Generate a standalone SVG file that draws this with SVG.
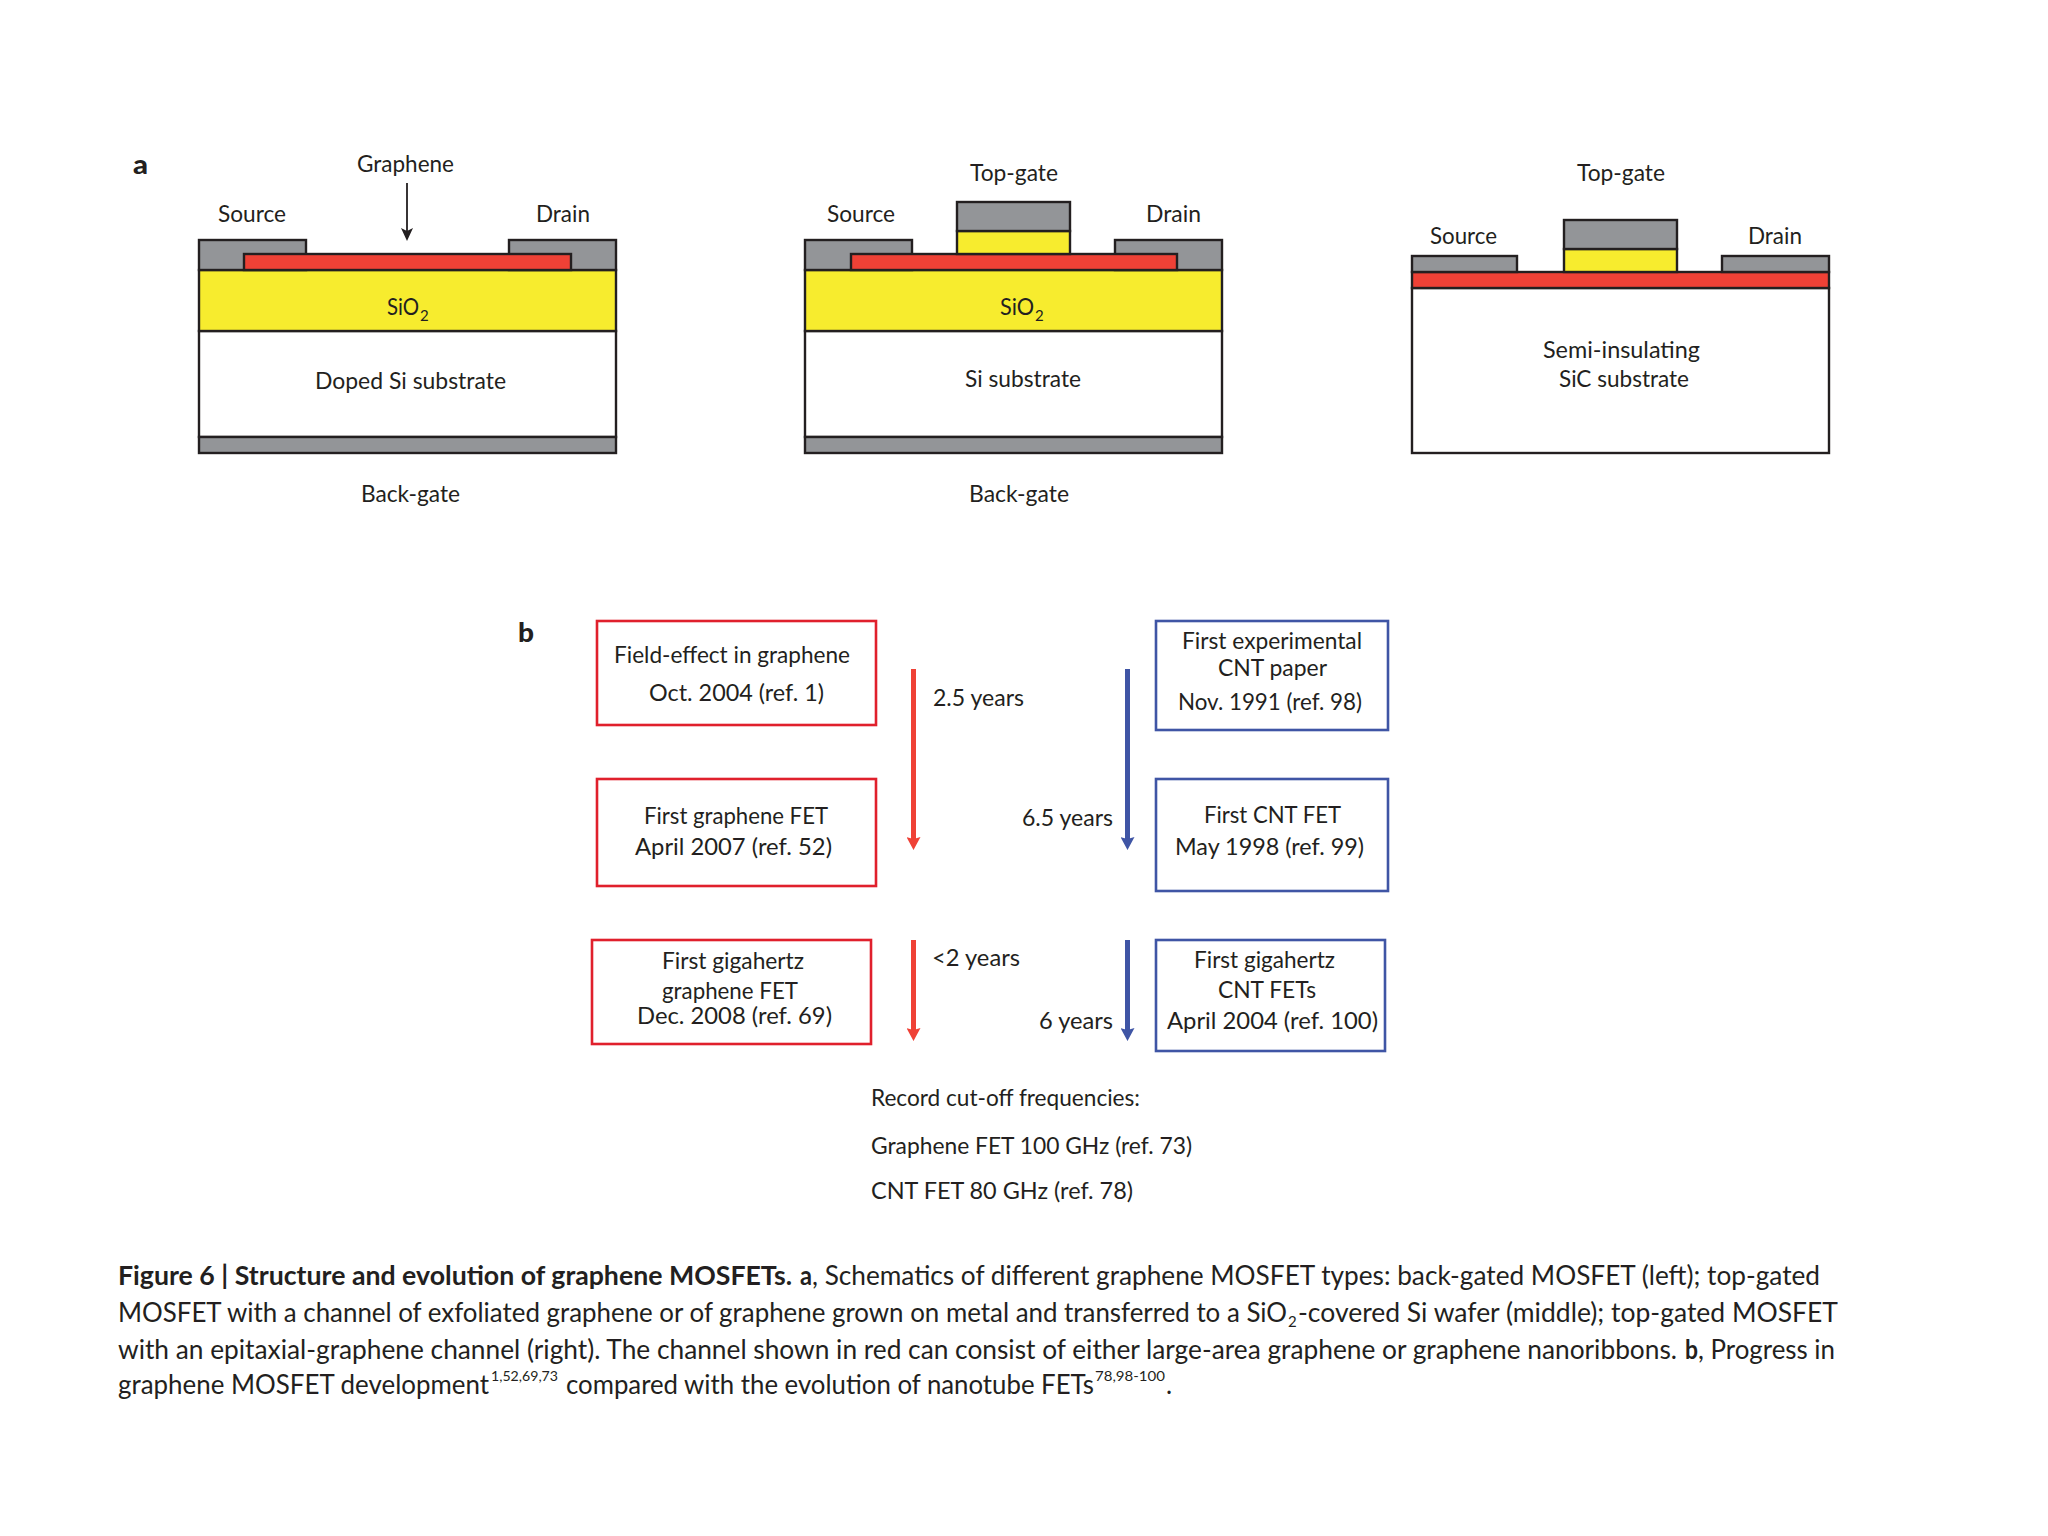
<svg xmlns="http://www.w3.org/2000/svg" width="2048" height="1536" viewBox="0 0 2048 1536">
<style>
text{font-family:"Lato","Open Sans","Liberation Sans",sans-serif;fill:#231f20;font-size:23px}
.b{font-weight:700}
.cap{font-size:26px}
.sup{font-size:14px}
.sub{font-size:15px}
.lbl{font-size:26px;font-weight:900}
.layer{stroke:#231f20;stroke-width:2.4}
.gray{fill:#939598}
.yel{fill:#f7ec2e}
.red{fill:#ef4136}
.wht{fill:#fff}
.rbox{fill:#fff;stroke:#e0202c;stroke-width:2.6}
.bbox{fill:#fff;stroke:#3f55a5;stroke-width:2.6}
.ra{stroke:#ef4136;stroke-width:5;fill:none}
.ba{stroke:#3f55a5;stroke-width:5;fill:none}
.ka{stroke:#231f20;stroke-width:1.8;fill:none}
</style>
<defs>
<marker id="mr" markerUnits="userSpaceOnUse" markerWidth="14" markerHeight="14" refX="7" refY="6" viewBox="0 0 14 14"><path d="M0 0 L7 2 L14 0 L7 13Z" fill="#ef4136"/></marker>
<marker id="mb" markerUnits="userSpaceOnUse" markerWidth="14" markerHeight="14" refX="7" refY="6" viewBox="0 0 14 14"><path d="M0 0 L7 2 L14 0 L7 13Z" fill="#3f55a5"/></marker>
<marker id="mk" markerUnits="userSpaceOnUse" markerWidth="12" markerHeight="14" refX="6" refY="7" viewBox="0 0 12 14"><path d="M0 1 L6 4 L12 1 L6 14Z" fill="#231f20"/></marker>
</defs>
<rect width="2048" height="1536" fill="#fff"/>

<g id="panel-a-left">
<text class="lbl" x="133" y="174" textLength="15" lengthAdjust="spacingAndGlyphs">a</text>
<rect class="layer wht" x="199" y="331" width="417" height="106"/>
<rect class="layer gray" x="199" y="437" width="417" height="16"/>
<rect class="layer yel" x="199" y="270" width="417" height="61"/>
<rect class="layer gray" x="199" y="240" width="107" height="30"/>
<rect class="layer gray" x="509" y="240" width="107" height="30"/>
<rect class="layer red" x="244" y="254" width="327" height="16"/>
<text x="357" y="172" textLength="97" lengthAdjust="spacingAndGlyphs">Graphene</text>
<text x="218" y="222" textLength="68" lengthAdjust="spacingAndGlyphs">Source</text>
<text x="536" y="222" textLength="54" lengthAdjust="spacingAndGlyphs">Drain</text>
<text x="387" y="315" textLength="32" lengthAdjust="spacingAndGlyphs">SiO</text><text class="sub" x="420" y="321">2</text>
<text x="315" y="389" textLength="191" lengthAdjust="spacingAndGlyphs">Doped Si substrate</text>
<text x="361" y="502" textLength="99" lengthAdjust="spacingAndGlyphs">Back-gate</text>
</g>

<g id="panel-a-middle">
<rect class="layer wht" x="805" y="331" width="417" height="106"/>
<rect class="layer gray" x="805" y="437" width="417" height="16"/>
<rect class="layer yel" x="805" y="270" width="417" height="61"/>
<rect class="layer gray" x="805" y="240" width="107" height="30"/>
<rect class="layer gray" x="1115" y="240" width="107" height="30"/>
<rect class="layer red" x="851" y="254" width="326" height="16"/>
<rect class="layer yel" x="957" y="231" width="113" height="23"/>
<rect class="layer gray" x="957" y="202" width="113" height="29"/>
<text x="970" y="181" textLength="88" lengthAdjust="spacingAndGlyphs">Top-gate</text>
<text x="827" y="222" textLength="68" lengthAdjust="spacingAndGlyphs">Source</text>
<text x="1146" y="222" textLength="55" lengthAdjust="spacingAndGlyphs">Drain</text>
<text x="1000" y="315" textLength="34" lengthAdjust="spacingAndGlyphs">SiO</text><text class="sub" x="1035" y="321">2</text>
<text x="965" y="387" textLength="116" lengthAdjust="spacingAndGlyphs">Si substrate</text>
<text x="969" y="502" textLength="100" lengthAdjust="spacingAndGlyphs">Back-gate</text>
</g>

<g id="panel-a-right">
<rect class="layer wht" x="1412" y="288" width="417" height="165"/>
<rect class="layer red" x="1412" y="272" width="417" height="16"/>
<rect class="layer gray" x="1412" y="256" width="105" height="16"/>
<rect class="layer gray" x="1722" y="256" width="107" height="16"/>
<rect class="layer yel" x="1564" y="249" width="113" height="23"/>
<rect class="layer gray" x="1564" y="220" width="113" height="29"/>
<text x="1577" y="181" textLength="88" lengthAdjust="spacingAndGlyphs">Top-gate</text>
<text x="1430" y="244" textLength="67" lengthAdjust="spacingAndGlyphs">Source</text>
<text x="1748" y="244" textLength="54" lengthAdjust="spacingAndGlyphs">Drain</text>
<text x="1543" y="358" textLength="157" lengthAdjust="spacingAndGlyphs">Semi-insulating</text>
<text x="1559" y="387" textLength="130" lengthAdjust="spacingAndGlyphs">SiC substrate</text>
</g>

<g id="connectors">
<line class="ka" x1="407" y1="183" x2="407" y2="234" marker-end="url(#mk)"/>
<line class="ra" x1="913.500" y1="669" x2="913.500" y2="843" marker-end="url(#mr)"/>
<line class="ra" x1="913.500" y1="940" x2="913.500" y2="1034" marker-end="url(#mr)"/>
<line class="ba" x1="1127.500" y1="669" x2="1127.500" y2="843" marker-end="url(#mb)"/>
<line class="ba" x1="1127.500" y1="940" x2="1127.500" y2="1034" marker-end="url(#mb)"/>
</g>

<g id="label-b"><text class="lbl" x="518" y="642" textLength="16" lengthAdjust="spacingAndGlyphs">b</text></g>

<g id="node-field-effect">
<rect class="rbox" x="597" y="621" width="279" height="104"/>
<text x="614" y="663" textLength="236" lengthAdjust="spacingAndGlyphs">Field-effect in graphene</text>
<text x="649" y="701" textLength="175" lengthAdjust="spacingAndGlyphs">Oct. 2004 (ref. 1)</text>
</g>
<g id="node-first-graphene-fet">
<rect class="rbox" x="597" y="779" width="279" height="107"/>
<text x="644" y="824" textLength="184" lengthAdjust="spacingAndGlyphs">First graphene FET</text>
<text x="635" y="855" textLength="197" lengthAdjust="spacingAndGlyphs">April 2007 (ref. 52)</text>
</g>
<g id="node-gigahertz-graphene">
<rect class="rbox" x="592" y="940" width="279" height="104"/>
<text x="662" y="969" textLength="142" lengthAdjust="spacingAndGlyphs">First gigahertz</text>
<text x="662" y="999" textLength="136" lengthAdjust="spacingAndGlyphs">graphene FET</text>
<text x="637" y="1024" textLength="195" lengthAdjust="spacingAndGlyphs">Dec. 2008 (ref. 69)</text>
</g>
<g id="node-cnt-paper">
<rect class="bbox" x="1156" y="621" width="232" height="109"/>
<text x="1182" y="649" textLength="180" lengthAdjust="spacingAndGlyphs">First experimental</text>
<text x="1218" y="676" textLength="109" lengthAdjust="spacingAndGlyphs">CNT paper</text>
<text x="1178" y="710" textLength="184" lengthAdjust="spacingAndGlyphs">Nov. 1991 (ref. 98)</text>
</g>
<g id="node-first-cnt-fet">
<rect class="bbox" x="1156" y="779" width="232" height="112"/>
<text x="1204" y="823" textLength="137" lengthAdjust="spacingAndGlyphs">First CNT FET</text>
<text x="1175" y="855" textLength="189" lengthAdjust="spacingAndGlyphs">May 1998 (ref. 99)</text>
</g>
<g id="node-gigahertz-cnt">
<rect class="bbox" x="1156" y="940" width="229" height="111"/>
<text x="1194" y="968" textLength="141" lengthAdjust="spacingAndGlyphs">First gigahertz</text>
<text x="1218" y="998" textLength="98" lengthAdjust="spacingAndGlyphs">CNT FETs</text>
<text x="1167" y="1029" textLength="211" lengthAdjust="spacingAndGlyphs">April 2004 (ref. 100)</text>
</g>

<g id="arrow-labels">
<text x="933" y="706" textLength="91" lengthAdjust="spacingAndGlyphs">2.5 years</text>
<text x="932" y="966" textLength="88" lengthAdjust="spacingAndGlyphs">&lt;2 years</text>
<text x="1022" y="826" textLength="91" lengthAdjust="spacingAndGlyphs">6.5 years</text>
<text x="1039" y="1029" textLength="74" lengthAdjust="spacingAndGlyphs">6 years</text>
</g>

<g id="record-frequencies">
<text x="871" y="1106" textLength="269" lengthAdjust="spacingAndGlyphs">Record cut-off frequencies:</text>
<text x="871" y="1154" textLength="321" lengthAdjust="spacingAndGlyphs">Graphene FET 100 GHz (ref. 73)</text>
<text x="871" y="1199" textLength="262" lengthAdjust="spacingAndGlyphs">CNT FET 80 GHz (ref. 78)</text>
</g>

<g id="caption">
<text class="cap b" x="118" y="1284.500" textLength="674" lengthAdjust="spacingAndGlyphs">Figure 6 | Structure and evolution of graphene MOSFETs.</text>
<text class="cap b" x="800" y="1284.500" textLength="12" lengthAdjust="spacingAndGlyphs">a</text>
<text class="cap" x="812" y="1284.500" textLength="1008" lengthAdjust="spacingAndGlyphs">, Schematics of different graphene MOSFET types: back-gated MOSFET (left); top-gated</text>
<text class="cap" x="118" y="1321.500" textLength="1169" lengthAdjust="spacingAndGlyphs">MOSFET with a channel of exfoliated graphene or of graphene grown on metal and transferred to a SiO</text>
<text class="sub" x="1288" y="1327">2</text>
<text class="cap" x="1298" y="1321.500" textLength="540" lengthAdjust="spacingAndGlyphs">-covered Si wafer (middle); top-gated MOSFET</text>
<text class="cap" x="118" y="1358.500" textLength="1559" lengthAdjust="spacingAndGlyphs">with an epitaxial-graphene channel (right). The channel shown in red can consist of either large-area graphene or graphene nanoribbons.</text>
<text class="cap b" x="1685" y="1358.500" textLength="13" lengthAdjust="spacingAndGlyphs">b</text>
<text class="cap" x="1698" y="1358.500" textLength="137" lengthAdjust="spacingAndGlyphs">, Progress in</text>
<text class="cap" x="118" y="1393.500" textLength="371" lengthAdjust="spacingAndGlyphs">graphene MOSFET development</text>
<text class="sup" x="491" y="1381" textLength="67" lengthAdjust="spacingAndGlyphs">1,52,69,73</text>
<text class="cap" x="566" y="1393.500" textLength="528" lengthAdjust="spacingAndGlyphs">compared with the evolution of nanotube FETs</text>
<text class="sup" x="1095" y="1381" textLength="70" lengthAdjust="spacingAndGlyphs">78,98-100</text>
<text class="cap" x="1166" y="1393.500">.</text>
</g>
</svg>
